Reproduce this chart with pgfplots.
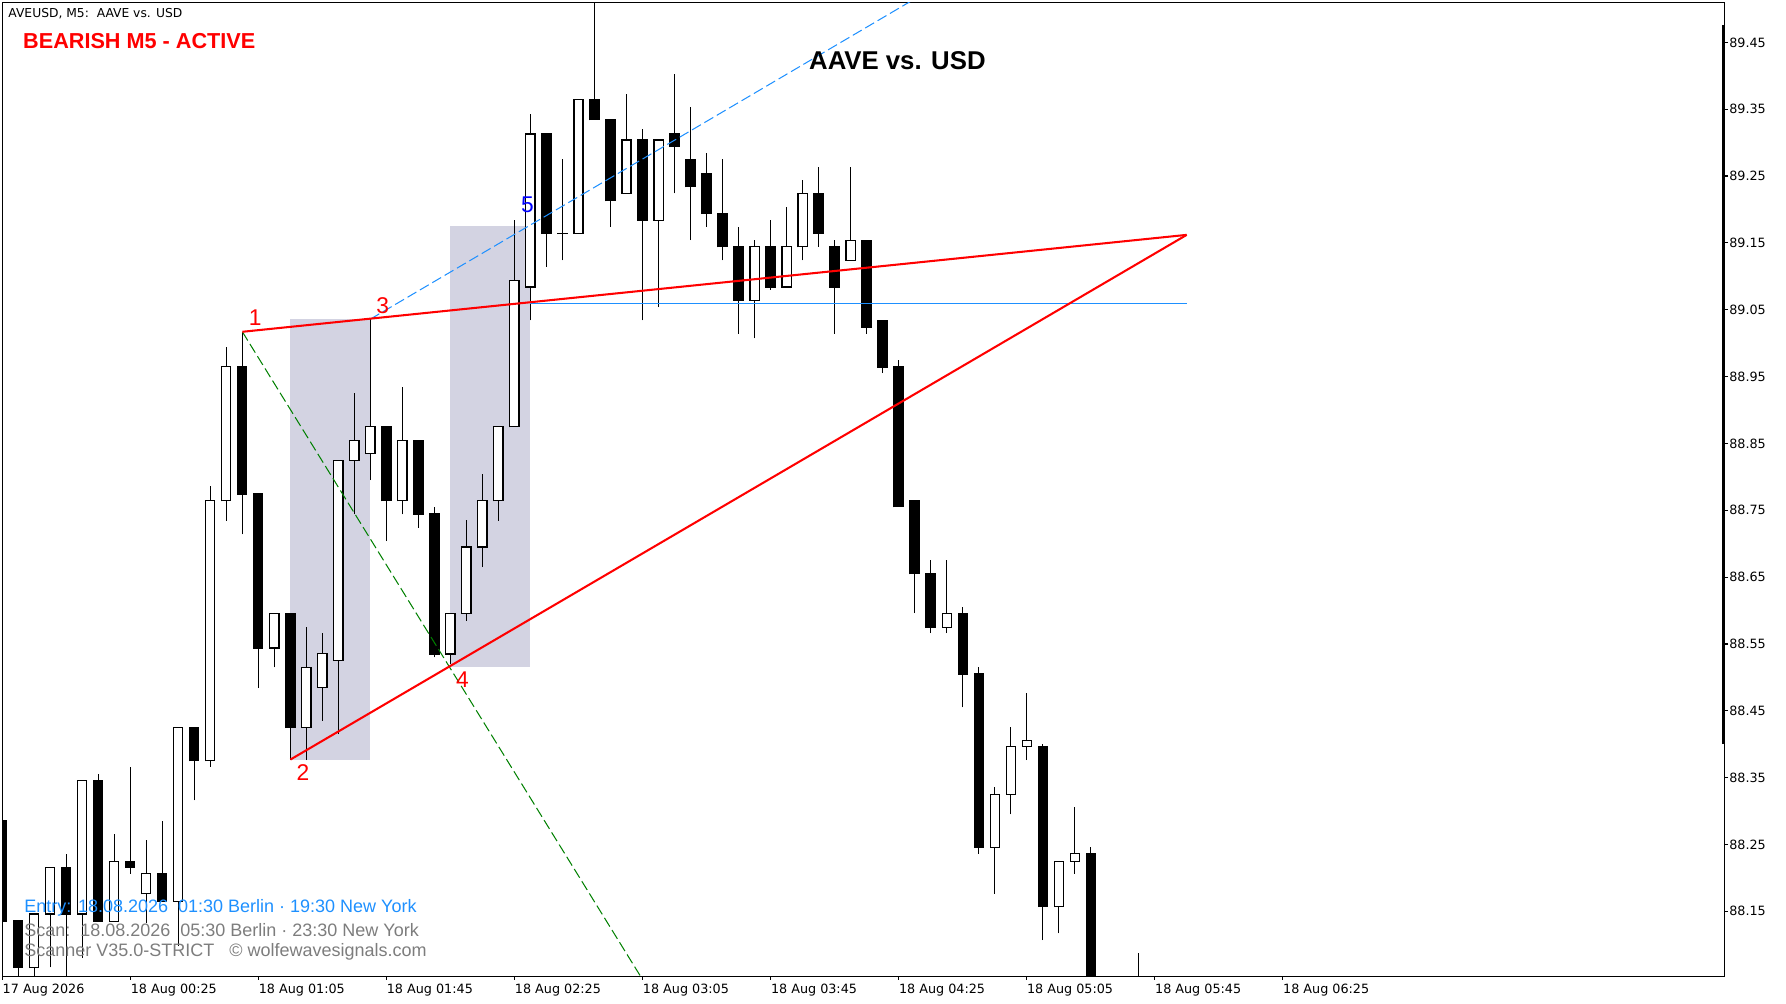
\documentclass[border=0pt]{standalone}
\usepackage{fontspec}
\setmainfont{Liberation Sans}
\newfontfamily\dejavu{DejaVu Sans}
\usepackage{pgfplots}
\pgfplotsset{compat=1.18}
\usepackage{pgfplotstable}

\definecolor{dodger}{RGB}{30,144,255}
\definecolor{zone}{RGB}{211,211,226}
\definecolor{mtgreen}{RGB}{0,128,0}
\definecolor{txtgray}{RGB}{125,125,125}

% bullish (white) candles: index, open, high, low, close
\pgfplotstableread{
i O H L C
2 88.066 88.146 88.050 88.146
3 88.146 88.216 88.066 88.216
5 88.146 88.346 88.080 88.346
7 88.135 88.266 88.135 88.225
9 88.176 88.256 88.133 88.206
11 88.165 88.425 88.098 88.425
13 88.375 88.786 88.366 88.764
14 88.764 88.994 88.734 88.965
17 88.544 88.596 88.515 88.596
19 88.425 88.576 88.376 88.515
20 88.485 88.566 88.435 88.536
21 88.525 88.825 88.415 88.825
22 88.825 88.925 88.744 88.855
23 88.835 89.036 88.795 88.875
25 88.764 88.935 88.744 88.855
28 88.535 88.596 88.520 88.596
29 88.596 88.735 88.585 88.695
30 88.695 88.804 88.665 88.764
31 88.764 88.875 88.734 88.875
32 88.875 89.184 88.875 89.094
33 89.084 89.343 89.034 89.313
35 89.164 89.275 89.124 89.164
36 89.164 89.364 89.164 89.364
39 89.224 89.373 89.224 89.304
41 89.184 89.304 89.054 89.304
47 89.064 89.154 89.007 89.144
49 89.084 89.204 89.084 89.144
50 89.144 89.244 89.124 89.224
53 89.124 89.264 89.124 89.154
59 88.575 88.675 88.566 88.596
62 88.246 88.336 88.176 88.325
63 88.325 88.425 88.295 88.397
64 88.397 88.477 88.376 88.406
66 88.157 88.225 88.117 88.225
67 88.225 88.306 88.206 88.236
}\bull

% bearish (black) candles: index, open, high, low, close
\pgfplotstableread{
i O H L C
0 88.286 88.290 88.130 88.135
1 88.136 88.136 88.053 88.066
4 88.216 88.236 88.050 88.146
6 88.346 88.355 88.135 88.135
8 88.225 88.366 88.206 88.216
10 88.206 88.285 88.165 88.165
12 88.425 88.425 88.316 88.375
15 88.965 89.017 88.714 88.774
16 88.775 88.775 88.484 88.544
18 88.596 88.596 88.377 88.425
24 88.875 88.875 88.704 88.764
26 88.855 88.855 88.724 88.744
27 88.745 88.755 88.530 88.535
34 89.313 89.313 89.114 89.164
37 89.364 89.530 89.334 89.334
38 89.334 89.334 89.174 89.213
40 89.304 89.320 89.034 89.184
42 89.313 89.403 89.224 89.294
43 89.275 89.354 89.154 89.234
44 89.254 89.284 89.174 89.194
45 89.194 89.275 89.124 89.144
46 89.144 89.174 89.014 89.064
48 89.144 89.184 89.080 89.084
51 89.224 89.264 89.144 89.164
52 89.144 89.154 89.014 89.084
54 89.154 89.154 89.014 89.024
55 89.034 89.034 88.955 88.964
56 88.965 88.975 88.755 88.755
57 88.764 88.764 88.596 88.655
58 88.655 88.675 88.566 88.575
60 88.596 88.605 88.455 88.505
61 88.505 88.515 88.236 88.246
65 88.397 88.400 88.107 88.157
68 88.236 88.246 88.000 88.020
71 88.000 88.087 87.980 87.990
}\bear

\pgfplotsset{candle/.style={draw=none, mark=none, forget plot,
  error bars/.cd, y dir=plus, y explicit, error mark=none}}

\begin{document}
\begin{tikzpicture}
\path[use as bounding box] (0pt,0pt) rectangle (784pt,440.5pt);
\begin{axis}[
  at={(1pt,12pt)}, anchor=south west,
  width=756pt, height=427.5pt, scale only axis,
  xmin=0, xmax=107.6, ymin=88.053, ymax=89.510,
  axis line style={black, line width=0.5pt},
  xtick pos=left, ytick pos=right,
  tick align=outside, major tick length=1.6pt,
  tick style={black, line width=0.5pt},
  xtick={0,8,16,24,32,40,48,56,64,72,80},
  xticklabels={17 Aug 2026, 18 Aug 00:25, 18 Aug 01:05, 18 Aug 01:45, 18 Aug 02:25, 18 Aug 03:05, 18 Aug 03:45, 18 Aug 04:25, 18 Aug 05:05, 18 Aug 05:45, 18 Aug 06:25},
  ytick={88.15,88.25,88.35,88.45,88.55,88.65,88.75,88.85,88.95,89.05,89.15,89.25,89.35,89.45},
  yticklabel pos=right,
  ticklabel style={font=\dejavu\fontsize{5.6}{6}\selectfont, black},
  xticklabel style={anchor=north west, inner sep=0pt, yshift=-1.6pt},
  yticklabel style={anchor=west, inner sep=0pt, xshift=0.3pt,
    /pgf/number format/.cd, fixed, fixed zerofill, precision=2},
  /pgf/number format/assume math mode=true,
  clip=true,
]
% zones
\addplot[fill=zone, draw=none] coordinates {(18,88.376) (23,88.376) (23,89.036) (18,89.036)};
\addplot[fill=zone, draw=none] coordinates {(28,88.516) (33,88.516) (33,89.175) (28,89.175)};

% wicks
\addplot[candle, error bar style={draw=black, solid, line width=0.55pt}]
  table[x=i, y=L, y error expr=\thisrow{H}-\thisrow{L}] {\bull};
\addplot[candle, error bar style={draw=black, solid, line width=0.55pt}]
  table[x=i, y=L, y error expr=\thisrow{H}-\thisrow{L}] {\bear};

% white bodies: outline then interior
\addplot[candle, error bar style={draw=black, solid, line width=4.5pt}]
  table[x=i, y expr=\thisrow{O}-0.00085, y error expr=\thisrow{C}-\thisrow{O}+0.0017] {\bull};
\addplot[candle, error bar style={draw=white, solid, line width=3.5pt}]
  table[x=i, y expr=\thisrow{O}+0.00085, y error expr={max(0,\thisrow{C}-\thisrow{O}-0.0017)}] {\bull};

% black bodies
\addplot[candle, error bar style={draw=black, solid, line width=4.5pt}]
  table[x=i, y expr=\thisrow{C}-0.00085, y error expr=\thisrow{O}-\thisrow{C}+0.0017] {\bear};

% pattern lines
\addplot[mtgreen, line width=0.45pt, dash pattern=on 4.5pt off 1.8pt] coordinates {(15,89.017) (40,88.048)};
\addplot[dodger, line width=0.45pt, dash pattern=on 4.5pt off 1.8pt] coordinates {(23,89.036) (58,89.529)};
\addplot[dodger, line width=0.45pt] coordinates {(33,89.060) (74,89.060)};
\addplot[red, line width=0.9pt] coordinates {(15,89.017) (74,89.162)};
\addplot[red, line width=0.9pt] coordinates {(18,88.377) (74,89.162)};

% right scale bar
\addplot[black, line width=1.2pt] coordinates {(107.52,89.476) (107.52,88.40)};
\end{axis}

% point labels
\node[text=red, font=\fontsize{10}{12}\selectfont] at (112pt,301pt) {1};
\node[text=red, font=\fontsize{10}{12}\selectfont] at (133pt,101.5pt) {2};
\node[text=red, font=\fontsize{10}{12}\selectfont] at (168pt,306.5pt) {3};
\node[text=red, font=\fontsize{10}{12}\selectfont] at (203pt,142pt) {4};
\node[text=blue, font=\fontsize{10}{12}\selectfont] at (231.5pt,350.5pt) {5};

% texts
\node[anchor=west, inner sep=0pt, font=\dejavu\fontsize{5.4}{6}\selectfont] at (3.5pt,434.5pt) {AVEUSD, M5:\ \ AAVE vs. USD};
\node[anchor=west, inner sep=0pt, text=red, font=\bfseries\fontsize{9.5}{11}\selectfont] at (10pt,422.5pt) {BEARISH M5 - ACTIVE};
\node[anchor=west, inner sep=0pt, font=\bfseries\fontsize{11.3}{13}\selectfont] at (355pt,414pt) {AAVE vs. USD};

\node[anchor=west, inner sep=0pt, text=dodger, font=\fontsize{7.9}{9}\selectfont] at (10.5pt,41.8pt) {Entry: 18.08.2026\ \ 01:30 Berlin · 19:30 New York};
\node[anchor=west, inner sep=0pt, text=txtgray, font=\fontsize{7.9}{9}\selectfont] at (10.5pt,32.3pt) {Scan:\ \ 18.08.2026\ \ 05:30 Berlin · 23:30 New York};
\node[anchor=west, inner sep=0pt, text=txtgray, font=\fontsize{7.9}{9}\selectfont] at (10.5pt,22.8pt) {Scanner V35.0-STRICT\ \ \ © wolfewavesignals.com};
\end{tikzpicture}
\end{document}
